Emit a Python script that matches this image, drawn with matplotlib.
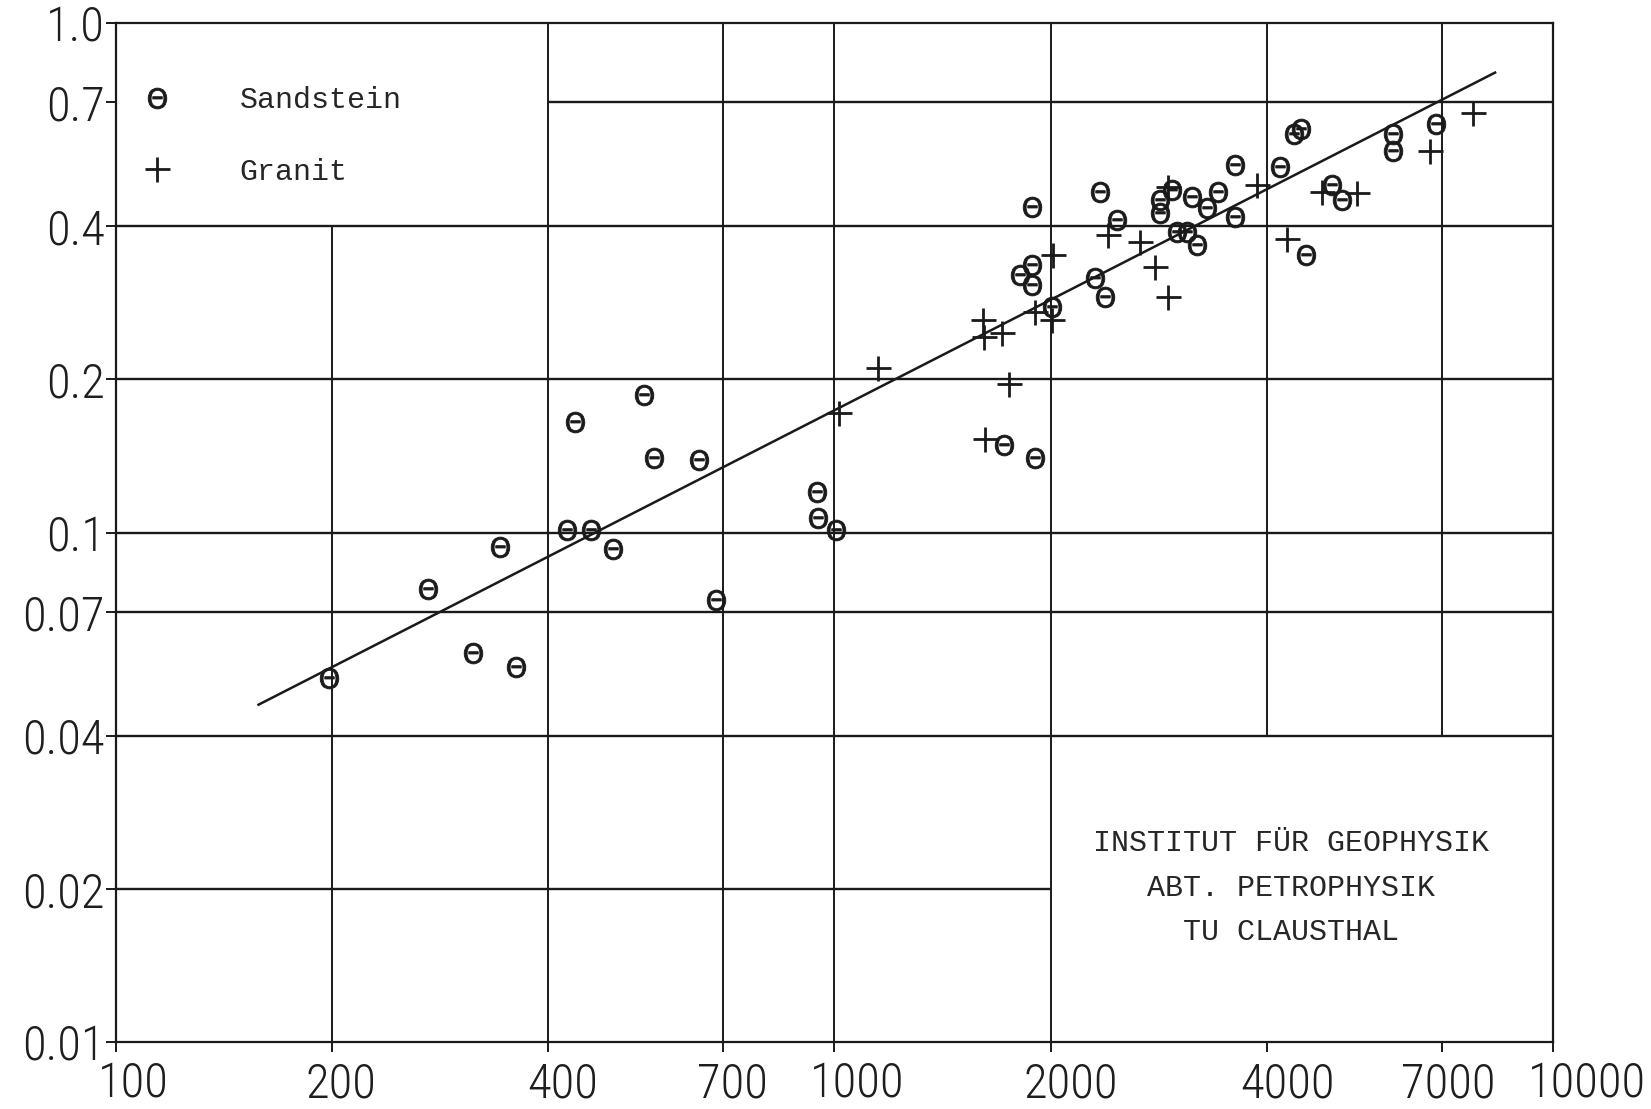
import os
import matplotlib
matplotlib.use("Agg")
import matplotlib.pyplot as plt
from matplotlib import font_manager as fm
from matplotlib.transforms import ScaledTranslation

# ---------------- data ----------------
sand_x = [198, 272, 314, 342, 360, 425, 436, 459, 492, 544, 560, 647, 685,
          946, 948, 1006,
          1719, 1901, 1880, 1812, 1881, 1881, 2005, 2304, 2379, 2339, 2470,
          2838, 2838, 2946, 3141, 3296, 3420, 3608, 3608, 3000, 3090, 3192,
          4169, 4358, 4453, 4525, 4918, 5078, 5981, 5981, 6878]
sand_y = [0.052, 0.0775, 0.058, 0.094, 0.0545, 0.1015, 0.165, 0.1015, 0.093,
          0.186, 0.1405, 0.139, 0.0738,
          0.120, 0.107, 0.1013,
          0.149, 0.1404, 0.435, 0.3205, 0.335, 0.306, 0.278, 0.316, 0.290,
          0.467, 0.411,
          0.450, 0.424, 0.471, 0.4565, 0.433, 0.467, 0.527, 0.417, 0.390,
          0.390, 0.367,
          0.523, 0.605, 0.619, 0.351, 0.481, 0.450, 0.605, 0.562, 0.633]

gran_x = [1013, 1150, 1611, 1615, 1708, 1747, 1622, 1901, 2005, 2016, 2404,
          2662, 2793, 2914, 2914, 3868, 4258, 4763, 5330, 6732, 7739]
gran_y = [0.172, 0.211, 0.2616, 0.2425, 0.2462, 0.1955, 0.1525, 0.2716,
          0.2616, 0.3509, 0.384, 0.3725, 0.3328, 0.290, 0.478, 0.481, 0.378,
          0.467, 0.4636, 0.562, 0.666]

fit_x = [158, 8300]
fit_y = [0.046, 0.80]

series_labels = ["Sandstein", "Granit"]

x_ticks = [100, 200, 400, 700, 1000, 2000, 4000, 7000, 10000]
x_ticklabels = ["100", "200", "400", "700", "1000", "2000", "4000", "7000", "10000"]
y_ticks = [0.01, 0.02, 0.04, 0.07, 0.1, 0.2, 0.4, 0.7, 1.0]
y_ticklabels = ["0.01", "0.02", "0.04", "0.07", "0.1", "0.2", "0.4", "0.7", "1.0"]

# hand-lettered x labels sit slightly right of their ticks (pixels)
x_label_offsets = [18, 9, 14, 9, 23, 20, 20, 6, 34]

# grid segments: (value, start, end)
h_grid = [(0.02, 100, 2000), (0.04, 100, 10000), (0.07, 100, 10000),
          (0.1, 100, 10000), (0.2, 100, 10000), (0.4, 100, 10000),
          (0.7, 400, 10000)]
v_grid = [(200, 0.01, 0.4), (400, 0.01, 1.0), (700, 0.01, 1.0),
          (1000, 0.01, 1.0), (2000, 0.01, 1.0), (4000, 0.04, 1.0),
          (7000, 0.04, 1.0)]

institute_lines = ["INSTITUT FÜR GEOPHYSIK", "ABT. PETROPHYSIK", "TU CLAUSTHAL"]

# ---------------- fonts ----------------
def find_font():
    files = [f.fname for f in fm.fontManager.ttflist]
    prefs = ["robotocondensed-light", "robotocondensed-regular",
             "opensans-condensedlight", "opensans_condensed-light",
             "opensans-condensed", "dejavusanscondensed.ttf",
             "liberationsansnarrow-regular", "liberationsansnarrow.ttf"]
    for p in prefs:
        for fn in files:
            if p in os.path.basename(fn).lower().replace(" ", ""):
                return fn, True
    for fn in files:
        b = os.path.basename(fn).lower()
        if ("condensed" in b or "narrow" in b) and not any(
                s in b for s in ["bold", "italic", "oblique", "mono", "serif", "black"]):
            return fn, True
    for fn in files:
        if os.path.basename(fn).lower() == "roboto-light.ttf":
            return fn, False
    return None, False

tick_font_file, condensed = find_font()
tick_size = 35 if condensed else 29
if tick_font_file:
    tick_fp = fm.FontProperties(fname=tick_font_file, size=tick_size)
else:
    tick_fp = fm.FontProperties(family="DejaVu Sans", size=tick_size)

mono = ["Liberation Mono", "DejaVu Sans Mono"]
ink = "#1a1a1a"

# ---------------- figure ----------------
fig = plt.figure(figsize=(16.51, 11.09), dpi=100)
ax = fig.add_axes([0.0701, 0.0600, 0.8707, 0.9191])
ax.set_xscale("log")
ax.set_yscale("log")
ax.set_xlim(100, 10000)
ax.set_ylim(0.01, 1.0)

for val, a, b in h_grid:
    ax.hlines(val, a, b, color=ink, lw=1.7, zorder=1)
for val, a, b in v_grid:
    ax.vlines(val, a, b, color=ink, lw=1.4, zorder=1)

ax.plot(fit_x, fit_y, color=ink, lw=1.8, zorder=2)

ax.plot(sand_x, sand_y, linestyle="none", marker=r"$\Theta$", ms=15,
        color=ink, mew=0.6, label=series_labels[0], zorder=3)
ax.plot(gran_x, gran_y, linestyle="none", marker="+", ms=18, mew=2.0,
        color=ink, label=series_labels[1], zorder=3)

for s in ax.spines.values():
    s.set_color(ink)
    s.set_linewidth(1.6)

ax.xaxis.set_major_locator(matplotlib.ticker.FixedLocator(x_ticks))
ax.xaxis.set_major_formatter(matplotlib.ticker.FixedFormatter(x_ticklabels))
ax.yaxis.set_major_locator(matplotlib.ticker.FixedLocator(y_ticks))
ax.yaxis.set_major_formatter(matplotlib.ticker.FixedFormatter(y_ticklabels))
ax.xaxis.set_minor_locator(matplotlib.ticker.NullLocator())
ax.yaxis.set_minor_locator(matplotlib.ticker.NullLocator())
ax.tick_params(axis="both", which="major", direction="out", length=7,
               width=1.4, color=ink, labelcolor="#1e1e1e")
ax.tick_params(axis="x", pad=6)
ax.tick_params(axis="y", pad=1)

for lab in ax.get_xticklabels() + ax.get_yticklabels():
    lab.set_fontproperties(tick_fp)
for lab, off in zip(ax.get_xticklabels(), x_label_offsets):
    lab.set_transform(lab.get_transform() +
                      ScaledTranslation(off / 100, 0, fig.dpi_scale_trans))

leg = ax.legend(loc="upper left", bbox_to_anchor=(0.0186, 0.938),
                frameon=False, borderpad=0, borderaxespad=0,
                handlelength=1.0, handletextpad=2.24, labelspacing=1.45,
                prop=fm.FontProperties(family=mono, size=21.6))
for t in leg.get_texts():
    t.set_color("#262626")

for ytxt, line in zip([0.196, 0.152, 0.1085], institute_lines):
    ax.text(0.8176, ytxt, line, transform=ax.transAxes, ha="center",
            va="center", family=mono, fontsize=21.6, color="#262626")

fig.savefig("out.png", dpi=100, facecolor="white")
